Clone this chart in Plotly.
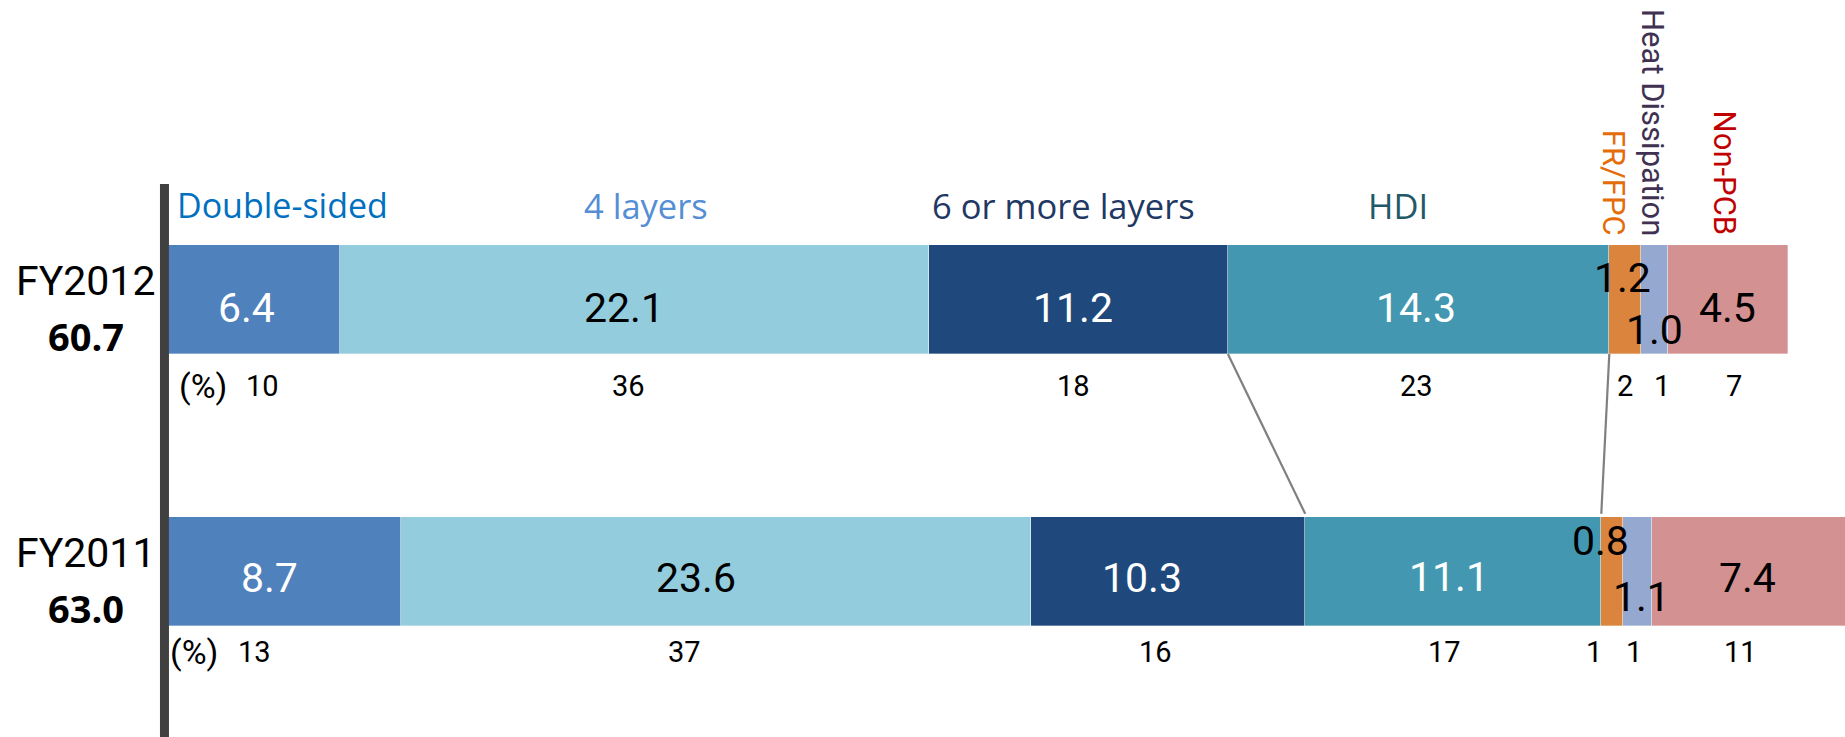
import numpy as np
import plotly.graph_objects as go

# ---- data -------------------------------------------------------------
years = ["FY2011", "FY2012"]
year_totals = ["63.0", "60.7"]
segments = ["Double-sided", "4 layers", "6 or more layers", "HDI",
            "FR/FPC", "Heat Dissipation", "Non-PCB"]
sales_fy2011 = [8.7, 23.6, 10.3, 11.1, 0.8, 1.1, 7.4]
sales_fy2012 = [6.4, 22.1, 11.2, 14.3, 1.2, 1.0, 4.5]
share_fy2011 = [13, 37, 16, 17, 1, 1, 11]
share_fy2012 = [10, 36, 18, 23, 2, 1, 7]

# ---- styling ----------------------------------------------------------
bar_colors = ["#4F81BD", "#93CDDD", "#1F497D", "#4397B0",
              "#DB843D", "#95A9D0", "#D39191"]
name_colors = ["#0070C0", "#558ED5", "#1F3864", "#215968",
               "#E46C0A", "#403152", "#C00000"]
value_font_colors = ["white", "black", "white", "white", "black", "black", "black"]
NUM_FONT = "Roboto"
CAT_FONT = "Open Sans"
BAR_W = 0.4

# fine pixel offsets for the labels (x, y) per segment
val_dx = {1: [-8, -10, -6, -3, -3, 0, 0], 0: [-16, -20, -26, -4, -11, 4, -3]}
val_dy = {1: [-8, -8, -8, -8, 22, -30, -8], 0: [-6, -6, -6, -5, 31, -25, -6]}
pct_dx = {1: [8, -6, -5, -2, 0, 7, 6], 0: [-31, -31, -12, -9, -18, -3, -10]}
pct_dy = {1: -86, 0: -80}

rows = {0: sales_fy2011, 1: sales_fy2012}
shares = {0: share_fy2011, 1: share_fy2012}

fig = go.Figure()

for i, seg in enumerate(segments):
    fig.add_trace(go.Bar(
        y=[0, 1], x=[sales_fy2011[i], sales_fy2012[i]],
        orientation="h", width=BAR_W, name=seg,
        marker=dict(color=bar_colors[i], line=dict(width=0.6, color="rgba(255,255,255,0.55)")),
        hoverinfo="skip", showlegend=False,
    ))

annotations = []
for row, vals in rows.items():
    cum = np.concatenate([[0], np.cumsum(vals)])
    centers = (cum[:-1] + cum[1:]) / 2
    for i, v in enumerate(vals):
        annotations.append(dict(
            x=centers[i], y=row, xref="x", yref="y", text=f"{v:.1f}",
            showarrow=False, xanchor="center", yanchor="middle",
            xshift=val_dx[row][i], yshift=val_dy[row][i],
            font=dict(family=NUM_FONT, size=41, color=value_font_colors[i]),
        ))
        annotations.append(dict(
            x=centers[i], y=row, xref="x", yref="y", text=str(shares[row][i]),
            showarrow=False, xanchor="center", yanchor="middle",
            xshift=pct_dx[row][i], yshift=pct_dy[row],
            font=dict(family=NUM_FONT, size=29, color="black"),
        ))
    annotations.append(dict(
        x=0, y=row, xref="x", yref="y", text="(%)", showarrow=False,
        xanchor="center", yanchor="middle", xshift=34 if row == 1 else 25,
        yshift=pct_dy[row], font=dict(family=NUM_FONT, size=34, color="black"),
    ))
    annotations.append(dict(
        x=0, y=row, xref="x", yref="y", text=years[row], showarrow=False,
        xanchor="center", yanchor="middle", xshift=-84, yshift=19,
        font=dict(family=NUM_FONT, size=41, color="black"),
    ))
    annotations.append(dict(
        x=0, y=row, xref="x", yref="y", text=f"<b>{year_totals[row]}</b>",
        showarrow=False, xanchor="center", yanchor="middle", xshift=-83, yshift=-36,
        font=dict(family=CAT_FONT, size=38, color="black"),
    ))

# segment names above the FY2012 bar
cum12 = np.concatenate([[0], np.cumsum(sales_fy2012)])
mid12 = (cum12[:-1] + cum12[1:]) / 2
top12 = 1 + BAR_W / 2
annotations.append(dict(x=cum12[0], y=top12, xref="x", yref="y", text=segments[0],
                        showarrow=False, xanchor="left", yanchor="middle",
                        xshift=6, yshift=40,
                        font=dict(family=CAT_FONT, size=34, color=name_colors[0])))
for i, dx in zip([1, 2, 3], [12, -15, -21]):
    annotations.append(dict(x=mid12[i], y=top12, xref="x", yref="y", text=segments[i],
                            showarrow=False, xanchor="center", yanchor="middle",
                            xshift=dx, yshift=40,
                            font=dict(family=CAT_FONT, size=34.5, color=name_colors[i])))
for i, dx in zip([4, 5, 6], [-11, -2, -4]):
    annotations.append(dict(x=mid12[i], y=top12, xref="x", yref="y", text=segments[i],
                            showarrow=False, xanchor="center", yanchor="bottom",
                            textangle=90, xshift=dx, yshift=7,
                            font=dict(family=NUM_FONT, size=31, color=name_colors[i])))

# connector lines between the two bars
cum11 = np.concatenate([[0], np.cumsum(sales_fy2011)])
for k in [3, 4]:
    fig.add_trace(go.Scatter(
        x=[cum12[k], cum11[k]], y=[1 - BAR_W / 2, 0 + BAR_W / 2 + 0.012],
        mode="lines", line=dict(color="#808080", width=2.2),
        hoverinfo="skip", showlegend=False,
    ))

# dark vertical baseline at the left
shapes = [dict(type="line", xref="x", yref="y", x0=-0.17, x1=-0.17,
               y0=-0.7, y1=1.425, line=dict(color="#404040", width=9))]

px_per_unit = 1619 / 60.7
fig.update_layout(
    width=1845, height=737,
    margin=dict(l=0, r=0, t=0, b=0),
    paper_bgcolor="white", plot_bgcolor="white",
    barmode="stack", bargap=0,
    xaxis=dict(range=[-169 / px_per_unit, (1845 - 169) / px_per_unit],
               visible=False, fixedrange=True),
    yaxis=dict(range=[-(737 - 571.5) / 272, 1 + 299.5 / 272],
               visible=False, fixedrange=True),
    annotations=annotations, shapes=shapes,
)

fig.write_html("out.html")
